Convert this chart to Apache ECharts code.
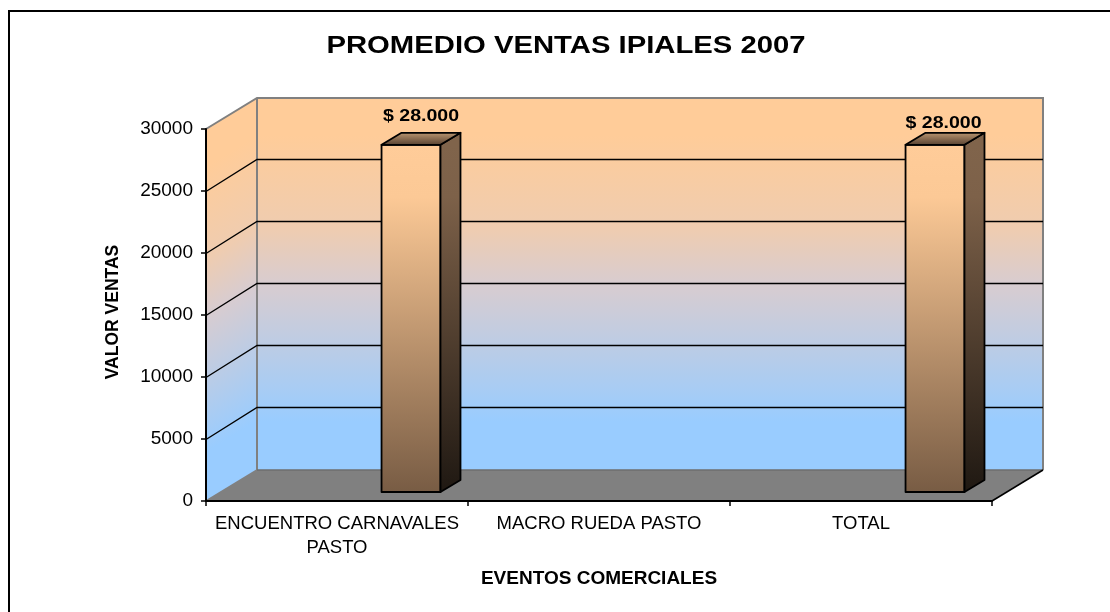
<!DOCTYPE html>
<html>
<head>
<meta charset="utf-8">
<style>html,body{margin:0;padding:0;background:#fff}#c{width:1110px;height:612px}</style>
<script src="https://cdn.jsdelivr.net/npm/echarts@6/dist/echarts.min.js"></script>
</head>
<body>
<div id="c"></div>
<script>
const chartTitle = 'PROMEDIO VENTAS IPIALES 2007';
const categories = ['ENCUENTRO CARNAVALES\nPASTO', 'MACRO RUEDA PASTO', 'TOTAL'];
const ventas = [28000, null, 28000];
const yTicks = [5000, 10000, 15000, 20000, 25000];

const DX = 51, DY = -31;          // 3D depth of the box
const FONT = '"Liberation Sans", Arial, sans-serif';

function lg(x1, y1, x2, y2, stops) {
  return new echarts.graphic.LinearGradient(x1, y1, x2, y2,
    stops.map(s => ({offset: s[0], color: s[1]})), true);
}
function renderWalls(params, api) {
  const c = params.coordSys;
  const l = c.x, r = c.x + c.width, t = c.y, b = c.y + c.height;
  const wallStops = [[0, '#FFCC99'], [0.1, '#FFCC99'], [0.35, '#EFCCB0'], [0.5, '#D8CCD0'], [0.62, '#C4CCDF'], [0.87, '#99CCFF'], [1, '#99CCFF']];
  return {type: 'group', children: [
    {type: 'polygon', shape: {points: [[l, t], [l + DX, t + DY], [l + DX, b + DY], [l, b]]},
      style: {fill: lg(l, t, l + 165, t + 271, wallStops), stroke: null}},
    {type: 'rect', shape: {x: l + DX, y: t + DY, width: c.width, height: c.height},
      style: {fill: lg(0, t + DY, 0, b + DY, wallStops), stroke: null}},
    {type: 'polygon', shape: {points: [[l, b], [r, b], [r + DX, b + DY], [l + DX, b + DY]]},
      style: {fill: '#808080', stroke: null}},
    {type: 'polyline', shape: {points: [[l, t], [l + DX, t + DY], [r + DX, t + DY], [r + DX, b + DY]]},
      style: {fill: null, stroke: '#808080', lineWidth: 2}},
    {type: 'line', shape: {x1: l + DX, y1: t + DY, x2: l + DX, y2: b + DY},
      style: {stroke: '#808080', lineWidth: 2}},
    {type: 'line', shape: {x1: l, y1: b, x2: l + DX, y2: b + DY},
      style: {stroke: '#808080', lineWidth: 1.5}},
    {type: 'line', shape: {x1: l + DX, y1: b + DY, x2: r + DX, y2: b + DY},
      style: {stroke: '#6e6e6e', lineWidth: 1.5}},
    {type: 'line', shape: {x1: r, y1: b, x2: r + DX, y2: b + DY},
      style: {stroke: '#000', lineWidth: 1.5}}
  ]};
}
function renderGrid(params, api) {
  const c = params.coordSys;
  const y = Math.round(api.coord([0, api.value(1)])[1]) + 0.5;
  return {type: 'polyline', shape: {points: [[c.x, y], [c.x + DX, y + DY - 1], [c.x + c.width + DX, y + DY - 1]]},
    style: {fill: null, stroke: '#000', lineWidth: 1.4}};
}
const labelLift = {0: 16, 1: 0, 2: 9};
const labelShift = {0: 10, 1: 0, 2: 8.5};
function money(v) {
  return '$ ' + String(v).replace(/\B(?=(\d{3})+$)/g, '.');
}
function renderBar(params, api) {
  const v = api.value(1);
  if (v == null || isNaN(v)) return null;
  const i = api.value(0);
  const band = api.size([1, 0])[0];
  const cx = api.coord([i, 0])[0];
  const base = api.coord([i, 0])[1];
  const top = api.coord([i, v])[1];
  const x0 = cx + band * 0.17, x1 = cx + band * 0.395;
  const by = base - 9, ty = top - 9;
  const dx = 20, dy = -12;
  const edge = {stroke: '#000', lineWidth: 1.8, lineJoin: 'round'};
  return {type: 'group', children: [
    {type: 'rect', shape: {x: x0, y: ty, width: x1 - x0, height: by - ty},
      style: Object.assign({fill: lg(0, ty, 0, by, [[0, '#FFCC99'], [0.15, '#FCC996'], [1, '#785C44']])}, edge)},
    {type: 'polygon', shape: {points: [[x1, ty], [x1 + dx, ty + dy], [x1 + dx, by + dy], [x1, by]]},
      style: Object.assign({fill: lg(0, ty, 0, by, [[0, '#80644B'], [0.15, '#7D6149'], [1, '#1F1812']])}, edge)},
    {type: 'polygon', shape: {points: [[x0, ty], [x0 + dx, ty + dy], [x1 + dx, ty + dy], [x1, ty]]},
      style: Object.assign({fill: lg(0, ty + dy, 0, ty, [[0, '#B8946F'], [1, '#5A4433']])}, edge)},
    {type: 'text', x: (x0 + x1) / 2 + labelShift[i], y: ty + dy - labelLift[i], scaleX: 1.15,
      style: {text: money(v), font: 'bold 17px ' + FONT, fill: '#000', align: 'center', verticalAlign: 'middle'}}
  ]};
}

const chart = echarts.init(document.getElementById('c'), null, {renderer: 'canvas'});
chart.setOption({
  animation: false,
  backgroundColor: '#fff',
  grid: {left: 206, right: 118, top: 129, bottom: 111},
  xAxis: {
    type: 'category', data: categories, z: 6,
    axisLine: {lineStyle: {color: '#000', width: 2}},
    axisTick: {show: true, alignWithLabel: false, length: 5, lineStyle: {color: '#000', width: 1.5}},
    axisLabel: {color: '#000', fontFamily: FONT, fontSize: 18.5, lineHeight: 24, margin: 11, interval: 0},
    name: 'EVENTOS COMERCIALES', nameLocation: 'middle', nameGap: 68,
    nameTextStyle: {color: '#000', fontFamily: FONT, fontSize: 19, fontWeight: 'bold'}
  },
  yAxis: {
    type: 'value', min: 0, max: 30000, interval: 5000, z: 6,
    splitLine: {show: false},
    axisLine: {show: true, lineStyle: {color: '#000', width: 2}},
    axisTick: {show: true, length: 5, lineStyle: {color: '#000', width: 1.5}},
    axisLabel: {color: '#000', fontFamily: FONT, fontSize: 19, margin: 13, formatter: v => String(v)},
    name: 'VALOR VENTAS', nameLocation: 'middle', nameGap: 84, nameRotate: 90,
    nameTextStyle: {color: '#000', fontFamily: FONT, fontSize: 17.5, fontWeight: 'bold', padding: [0, 0, 0, 6]}
  },
  graphic: [{
    type: 'polyline', silent: true,
    shape: {points: [[9, 612], [9, 11], [1110, 11]]},
    style: {fill: null, stroke: '#000', lineWidth: 2}
  }, {
    type: 'text', silent: true, x: 566, y: 47, scaleX: 1.245,
    style: {text: chartTitle, font: 'bold 23.5px ' + FONT, fill: '#000', align: 'center', verticalAlign: 'middle'}
  }],
  series: [
    {type: 'custom', z: 1, silent: true, renderItem: renderWalls, data: [[0, 0]], encode: {x: 0, y: 1}},
    {type: 'custom', z: 2, silent: true, renderItem: renderGrid, data: yTicks.map(t => [0, t]), encode: {x: 0, y: 1}},
    {type: 'custom', z: 3, silent: true, renderItem: renderBar, data: ventas.map((v, i) => [i, v]), encode: {x: 0, y: 1}}
  ]
});
</script>
</body>
</html>
